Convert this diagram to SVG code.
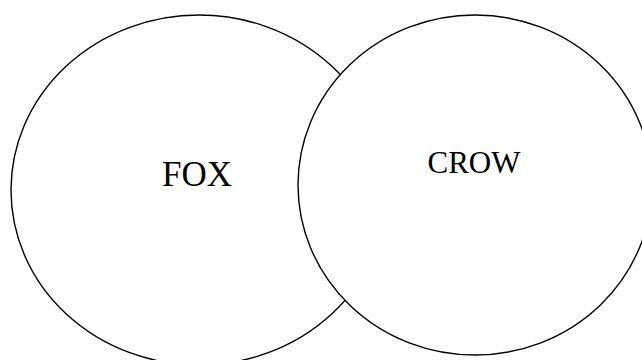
<svg xmlns="http://www.w3.org/2000/svg" width="642" height="360" viewBox="0 0 642 360">
<style>
.n{fill:none;stroke:#000;stroke-width:1.4}
.t{font-family:"Liberation Serif","Times New Roman",serif;fill:#000;text-anchor:middle}
</style>
<rect width="642" height="360" fill="#fff"/>
<g id="fox">
<ellipse class="n" cx="199" cy="190" rx="188" ry="175"/>
<text class="t" x="197" y="186" font-size="35">FOX</text>
</g>
<g id="crow">
<ellipse class="n" cx="475" cy="185" rx="177" ry="170" style="fill:#fff"/>
<text class="t" x="474" y="173" font-size="31">CROW</text>
</g>
<g id="connectors"></g>
</svg>
